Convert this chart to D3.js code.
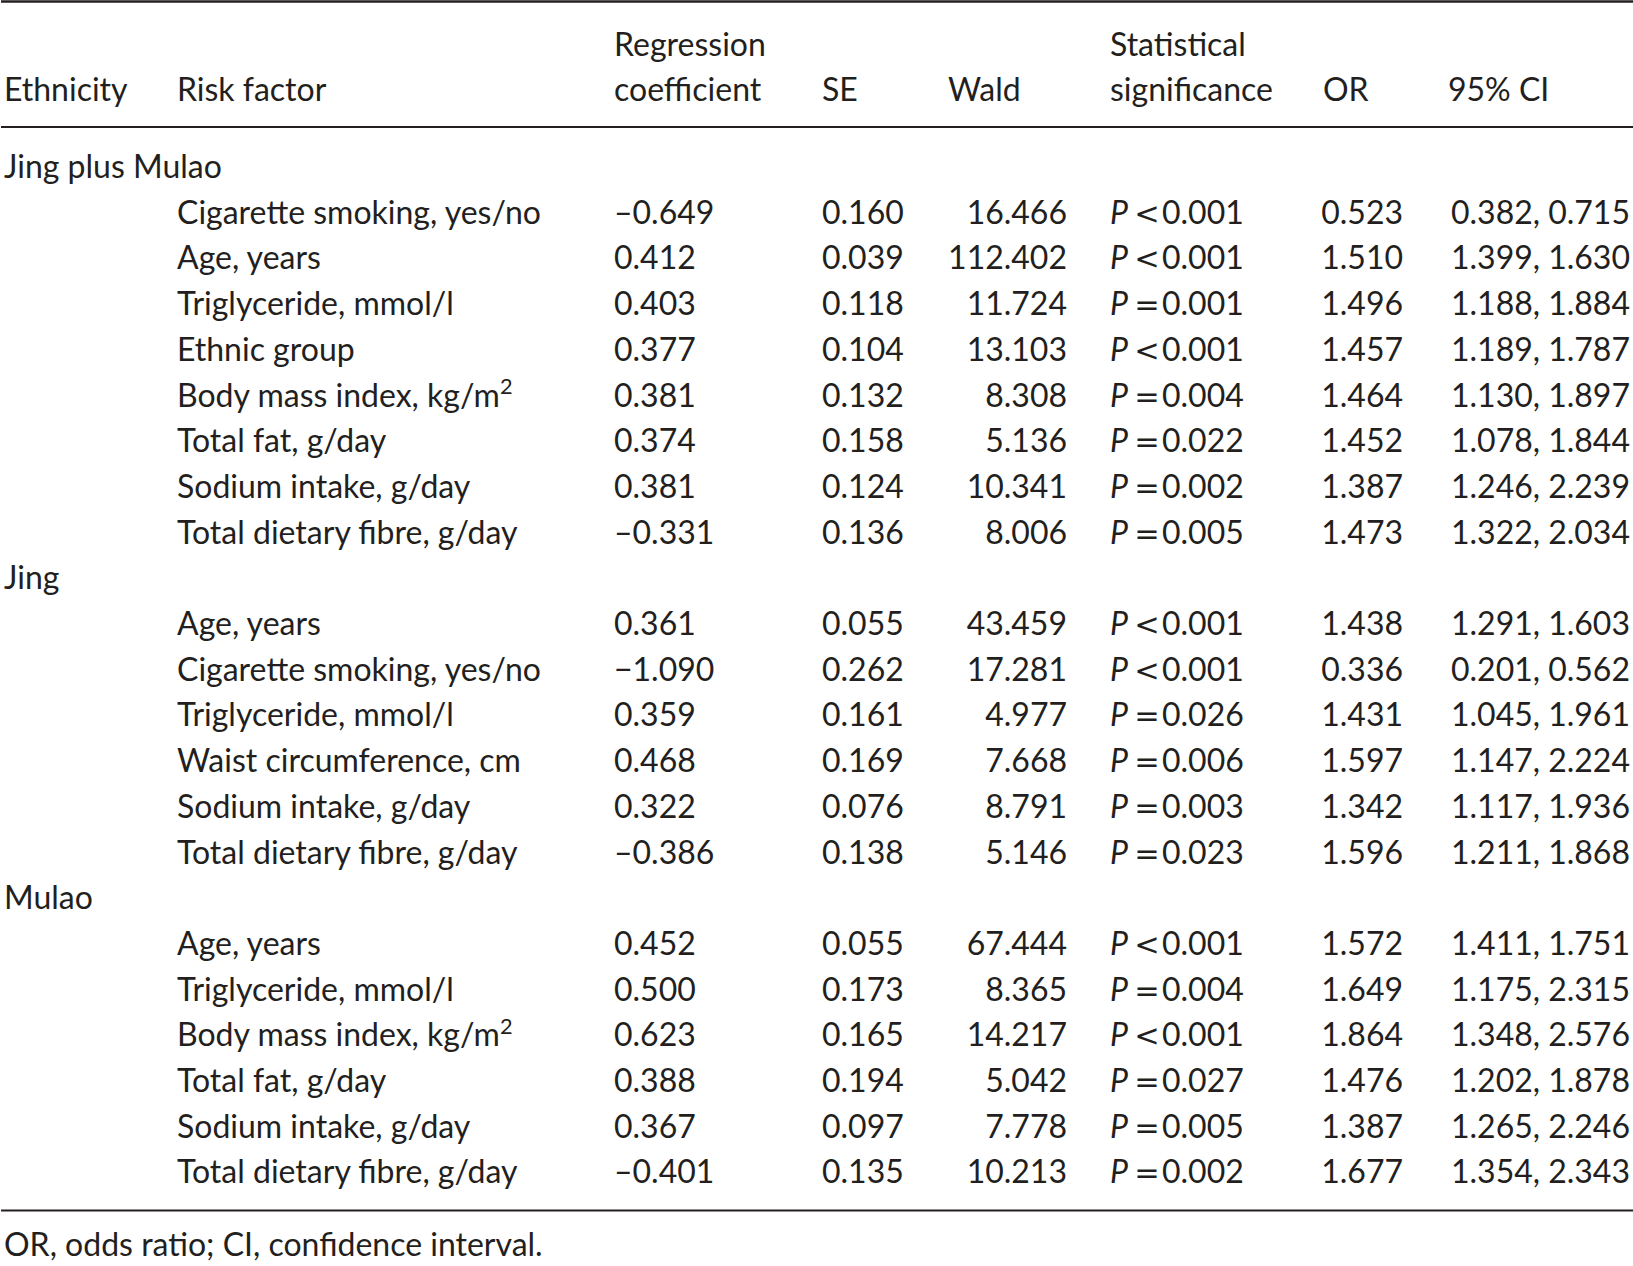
<!DOCTYPE html>
<html>
<head>
<meta charset="utf-8">
<script src="https://cdn.jsdelivr.net/npm/d3@7.9.0/dist/d3.min.js"></script>
<style>
  html, body { margin: 0; padding: 0; background: #fff; }
  svg text { font-family: Lato, "Noto Sans", sans-serif; fill: #231f20; }
  svg text.rel { font-family: "DejaVu Sans", sans-serif; }
</style>
</head>
<body>
<svg id="table" width="1633" height="1266"></svg>
<script>
const groupNames = ["Jing plus Mulao", "Jing", "Mulao"];
const groupSizes = [8, 6, 6];

const riskFactors = [
  "Cigarette smoking, yes/no", "Age, years", "Triglyceride, mmol/l", "Ethnic group",
  "Body mass index, kg/m^2", "Total fat, g/day", "Sodium intake, g/day", "Total dietary fibre, g/day",
  "Age, years", "Cigarette smoking, yes/no", "Triglyceride, mmol/l", "Waist circumference, cm",
  "Sodium intake, g/day", "Total dietary fibre, g/day",
  "Age, years", "Triglyceride, mmol/l", "Body mass index, kg/m^2", "Total fat, g/day",
  "Sodium intake, g/day", "Total dietary fibre, g/day"
];
const coefficients = [
  "–0.649", "0.412", "0.403", "0.377", "0.381", "0.374", "0.381", "–0.331",
  "0.361", "−1.090", "0.359", "0.468", "0.322", "–0.386",
  "0.452", "0.500", "0.623", "0.388", "0.367", "–0.401"
];
const standardErrors = [
  "0.160", "0.039", "0.118", "0.104", "0.132", "0.158", "0.124", "0.136",
  "0.055", "0.262", "0.161", "0.169", "0.076", "0.138",
  "0.055", "0.173", "0.165", "0.194", "0.097", "0.135"
];
const waldValues = [
  "16.466", "112.402", "11.724", "13.103", "8.308", "5.136", "10.341", "8.006",
  "43.459", "17.281", "4.977", "7.668", "8.791", "5.146",
  "67.444", "8.365", "14.217", "5.042", "7.778", "10.213"
];
const pRelations = [
  "<", "<", "=", "<", "=", "=", "=", "=",
  "<", "<", "=", "=", "=", "=",
  "<", "=", "<", "=", "=", "="
];
const pValues = [
  "0.001", "0.001", "0.001", "0.001", "0.004", "0.022", "0.002", "0.005",
  "0.001", "0.001", "0.026", "0.006", "0.003", "0.023",
  "0.001", "0.004", "0.001", "0.027", "0.005", "0.002"
];
const oddsRatios = [
  "0.523", "1.510", "1.496", "1.457", "1.464", "1.452", "1.387", "1.473",
  "1.438", "0.336", "1.431", "1.597", "1.342", "1.596",
  "1.572", "1.649", "1.864", "1.476", "1.387", "1.677"
];
const ciLower = [
  "0.382", "1.399", "1.188", "1.189", "1.130", "1.078", "1.246", "1.322",
  "1.291", "0.201", "1.045", "1.147", "1.117", "1.211",
  "1.411", "1.175", "1.348", "1.202", "1.265", "1.354"
];
const ciUpper = [
  "0.715", "1.630", "1.884", "1.787", "1.897", "1.844", "2.239", "2.034",
  "1.603", "0.562", "1.961", "2.224", "1.936", "1.868",
  "1.751", "2.315", "2.576", "1.878", "2.246", "2.343"
];
const headerLine1 = ["", "", "Regression", "", "", "Statistical", "", ""];
const headerLine2 = ["Ethnicity", "Risk factor", "coefficient", "SE", "Wald", "significance", "OR", "95% CI"];
const footnote = "OR, odds ratio; CI, confidence interval.";

const width = 1633, height = 1266;
const ink = "#231f20";
const svg = d3.select("#table");

// fit the font size so the sample string spans the same width as in the print
const probe = svg.append("text").attr("font-size", 100).text("Cigarette smoking, yes/no");
const fontSize = Math.min(32, 394 / probe.node().getComputedTextLength() * 100);
probe.remove();

// column positions: left edge or right edge depending on anchor
const colX = { eth: 4, risk: 177, coef: 614, se: 822, wald: 1067, p: 1110, or: 1403, ci: 1630 };
const headerX = [4, 177, 614, 822, 948, 1110, 1323, 1448];

// rows: a label row per ethnic group followed by its risk factors
const rows = [];
let k = 0;
groupNames.forEach((g, gi) => {
  rows.push({ type: "group", label: g });
  for (let j = 0; j < groupSizes[gi]; j++) rows.push({ type: "factor", i: k++ });
});

const y = d3.scaleLinear().domain([0, rows.length - 1]).range([178, 178 + (rows.length - 1) * 45.7]);

// rules
const rules = [{ y: 1.5, w: 2.6 }, { y: 127, w: 2 }, { y: 1210.5, w: 2 }];
svg.selectAll("line.rule").data(rules).join("line")
  .attr("class", "rule")
  .attr("x1", 1).attr("x2", width)
  .attr("y1", d => d.y).attr("y2", d => d.y)
  .attr("stroke", ink).attr("stroke-width", d => d.w);

// header
const head = svg.append("g").attr("font-size", fontSize);
head.selectAll("text.h1").data(headerLine1).join("text")
  .attr("x", (d, i) => headerX[i]).attr("y", 56).text(d => d);
head.selectAll("text.h2").data(headerLine2).join("text")
  .attr("x", (d, i) => headerX[i]).attr("y", 101).text(d => d);

// body
const body = svg.append("g").attr("font-size", fontSize);
const rowG = body.selectAll("g.row").data(rows).join("g")
  .attr("class", "row")
  .attr("transform", (d, i) => `translate(0,${y(i)})`);

rowG.filter(d => d.type === "group").append("text")
  .attr("x", colX.eth).text(d => d.label);

const fr = rowG.filter(d => d.type === "factor");

fr.append("text").attr("x", colX.risk).each(function (d) {
  const t = d3.select(this);
  const parts = riskFactors[d.i].split("^");
  t.append("tspan").text(parts[0]);
  if (parts[1]) t.append("tspan").attr("dy", -fontSize * 0.4).attr("font-size", fontSize * 0.68).text(parts[1]);
});
fr.append("text").attr("x", colX.coef).text(d => coefficients[d.i]);
fr.append("text").attr("x", colX.se).text(d => standardErrors[d.i]);
fr.append("text").attr("x", colX.wald).attr("text-anchor", "end").text(d => waldValues[d.i]);
fr.append("text").attr("x", colX.p).attr("font-style", "italic").text("P");
fr.append("text").attr("class", "rel").attr("x", colX.p + 37).attr("text-anchor", "middle")
  .attr("font-size", fontSize * 0.95).text(d => pRelations[d.i]);
fr.append("text").attr("x", colX.p + 52).text(d => pValues[d.i]);
fr.append("text").attr("x", colX.or).attr("text-anchor", "end").text(d => oddsRatios[d.i]);
fr.append("text").attr("x", colX.ci).attr("text-anchor", "end").text(d => `${ciLower[d.i]}, ${ciUpper[d.i]}`);

// footnote
svg.append("text").attr("x", 4).attr("y", 1256).attr("font-size", fontSize).text(footnote);
</script>
</body>
</html>
